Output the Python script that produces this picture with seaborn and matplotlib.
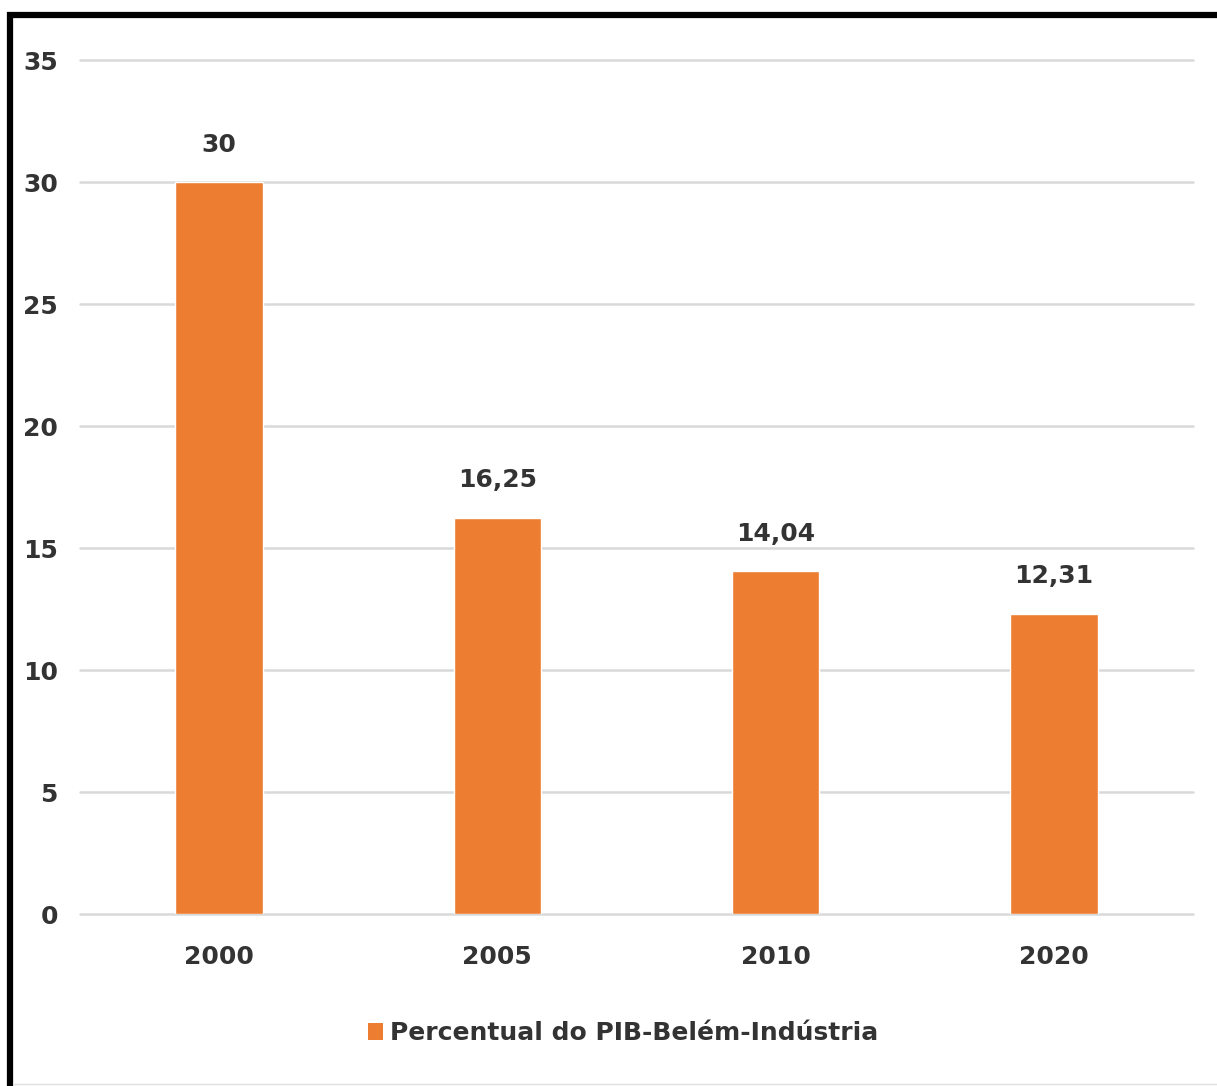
import matplotlib
matplotlib.use("Agg")
import matplotlib.pyplot as plt
import seaborn as sns
import pandas as pd
from matplotlib.lines import Line2D
from matplotlib.patches import Patch
from matplotlib import font_manager

years = ["2000", "2005", "2010", "2020"]
values = [30, 16.25, 14.04, 12.31]
value_labels = ["30", "16,25", "14,04", "12,31"]
series_name = "Percentual do PIB-Belém-Indústria"
yticks = [0, 5, 10, 15, 20, 25, 30, 35]

names = sorted({f.name for f in font_manager.fontManager.ttflist})
print(names)

sns.set_theme(style="white")
plt.rcParams['font.family'] = ['Liberation Sans Narrow', 'DejaVu Sans Condensed', 'DejaVu Sans']
plt.rcParams['font.weight'] = 'bold'

W, H = 1217, 1086
fig = plt.figure(figsize=(W / 100, H / 100), dpi=100)
ax = fig.add_axes([80 / W, 1 - 914 / H, (1193 - 80) / W, (914 - 60) / H])

df = pd.DataFrame({"year": years, "value": values})
orange = "#ED7D31"
sns.barplot(data=df, x="year", y="value", color=orange, width=0.315, ax=ax,
            saturation=1)

ax.set_ylim(0, 35)
ax.set_yticks(yticks)
ax.set_yticklabels([str(t) for t in yticks])
ax.yaxis.grid(True, color="#D9D9D9", linewidth=1.8)
for gl in ax.get_ygridlines():
    gl.set_clip_on(False)
ax.set_axisbelow(True)
for s in ax.spines.values():
    s.set_visible(False)
ax.set_xlabel("")
ax.set_ylabel("")
txt = "#333333"
fs = 18
ax.tick_params(axis="y", length=0, pad=16, labelsize=fs, labelcolor=txt)
ax.tick_params(axis="x", length=0, pad=22, labelsize=fs, labelcolor=txt)
for lab in ax.get_xticklabels() + ax.get_yticklabels():
    lab.set_fontweight("bold")

for i, (v, lab) in enumerate(zip(values, value_labels)):
    ax.annotate(lab, (i, v), xytext=(0, 27), textcoords="offset points",
                ha="center", va="center", fontsize=fs, fontweight="bold", color=txt)

handles = [Patch(facecolor=orange, edgecolor="none")]
leg = fig.legend(handles, [series_name], loc="center", bbox_to_anchor=(623 / W, 1 - 1033 / H),
                 frameon=False, handlelength=0.6, handleheight=0.7,
                 handletextpad=0.3, prop={"weight": "bold", "size": fs})
for t in leg.get_texts():
    t.set_color(txt)

# outer frame
fig.add_artist(Line2D([7 / W, 1], [1 - 15 / H, 1 - 15 / H], color="black", linewidth=4.5,
                      transform=fig.transFigure, solid_capstyle="butt"))
fig.add_artist(Line2D([10 / W, 10 / W], [0, 1 - 12 / H], color="black", linewidth=4.5,
                      transform=fig.transFigure, solid_capstyle="butt"))
fig.add_artist(Line2D([13 / W, 1], [1 - 1084 / H, 1 - 1084 / H], color="#E0E0E0", linewidth=1,
                      transform=fig.transFigure))

fig.savefig("out.png", dpi=100, facecolor="white")
